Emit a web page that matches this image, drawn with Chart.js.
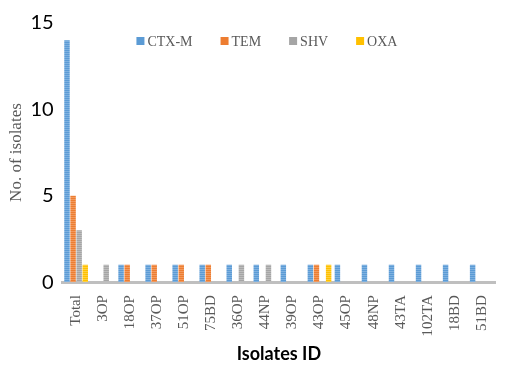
<!DOCTYPE html>
<html>
<head>
<meta charset="utf-8">
<script src="https://cdn.jsdelivr.net/npm/chart.js@4.4.1/dist/chart.umd.min.js"></script>
<style>
  html, body { margin: 0; padding: 0; background: #ffffff; }
  #wrap { width: 505px; height: 365px; position: relative; }
</style>
</head>
<body>
<div id="wrap"><canvas id="chart" width="505" height="365"></canvas></div>
<script>
// Isolate IDs along the x axis
const isolates = ['Total', '3OP', '18OP', '37OP', '51OP', '75BD', '36OP', '44NP',
                  '39OP', '43OP', '45OP', '48NP', '43TA', '102TA', '18BD', '51BD'];

// Number of isolates carrying each gene
const ctxM = [14, 0, 1, 1, 1, 1, 1, 1, 1, 1, 1, 1, 1, 1, 1, 1];
const tem  = [5, 0, 1, 1, 1, 1, 0, 0, 0, 1, 0, 0, 0, 0, 0, 0];
const shv  = [3, 1, 0, 0, 0, 0, 1, 1, 0, 0, 0, 0, 0, 0, 0, 0];
const oxa  = [1, 0, 0, 0, 0, 0, 0, 0, 0, 1, 0, 0, 0, 0, 0, 0];

// y axis ticks
const yTicks = [0, 5, 10, 15];

// Finely striped fill for the bars
function stripedFill(base, light) {
  const c = document.createElement('canvas');
  c.width = 2; c.height = 2;
  const g = c.getContext('2d');
  g.fillStyle = base;
  g.fillRect(0, 0, 2, 2);
  g.fillStyle = light;
  g.fillRect(0, 1, 2, 1);
  return g.createPattern(c, 'repeat');
}

const serif = '"Liberation Serif", "Times New Roman", serif';
const sans = 'Lato, "Open Sans", sans-serif';

const series = [
  { label: 'CTX-M', data: ctxM, color: '#5b9bd5', light: '#7fb1e0' },
  { label: 'TEM',   data: tem,  color: '#ed7d31', light: '#f29a5e' },
  { label: 'SHV',   data: shv,  color: '#a5a5a5', light: '#bcbcbc' },
  { label: 'OXA',   data: oxa,  color: '#ffc000', light: '#ffd140' }
];

// Horizontal legend drawn inside the top of the plot area
const innerLegend = {
  id: 'innerLegend',
  afterDatasetsDraw(chart) {
    const { ctx, chartArea } = chart;
    const box = 8, gapText = 3, gapItem = 28;
    ctx.save();
    ctx.font = '14px ' + serif;
    ctx.textBaseline = 'middle';
    const widths = series.map(s => box + gapText + ctx.measureText(s.label).width);
    const total = widths.reduce((a, b) => a + b, 0) + gapItem * (series.length - 1);
    let x = (chartArea.left + chartArea.right) / 2 - total / 2 - 12;
    const y = chartArea.top + 18;
    series.forEach((s, i) => {
      ctx.fillStyle = s.color;
      ctx.fillRect(x, y - box / 2, box, box);
      ctx.fillStyle = '#595959';
      ctx.fillText(s.label, x + box + gapText, y + 1);
      x += widths[i] + gapItem;
    });
    ctx.restore();
  }
};

new Chart(document.getElementById('chart'), {
  type: 'bar',
  data: {
    labels: isolates,
    datasets: series.map(s => ({
      label: s.label,
      data: s.data,
      backgroundColor: stripedFill(s.color, s.light),
      borderWidth: 0,
      barPercentage: 0.9,
      categoryPercentage: 0.9
    }))
  },
  plugins: [innerLegend],
  options: {
    responsive: false,
    animation: false,
    devicePixelRatio: 1,
    layout: { padding: { top: 23, right: 8, left: 6, bottom: 0 } },
    plugins: {
      tooltip: { enabled: false },
      legend: { display: false }
    },
    scales: {
      x: {
        grid: { display: false },
        border: { display: true, color: '#bfbfbf', width: 3 },
        ticks: {
          color: '#595959',
          font: { family: serif, size: 15 },
          minRotation: 90,
          maxRotation: 90,
          padding: 5,
          autoSkip: false
        },
        title: {
          display: true,
          text: 'Isolates ID',
          color: '#000000',
          font: { family: sans, size: 18, weight: 'bold' },
          padding: { top: 2, bottom: 0 }
        }
      },
      y: {
        min: 0,
        max: 15,
        afterBuildTicks: axis => { axis.ticks = yTicks.map(v => ({ value: v })); },
        grid: { display: false },
        border: { display: false },
        ticks: {
          color: '#000000',
          font: { family: sans, size: 20 },
          padding: 1
        },
        title: {
          display: true,
          text: 'No. of isolates',
          color: '#595959',
          font: { family: serif, size: 17 },
          padding: { top: 0, bottom: 3 }
        }
      }
    }
  }
});
</script>
</body>
</html>
